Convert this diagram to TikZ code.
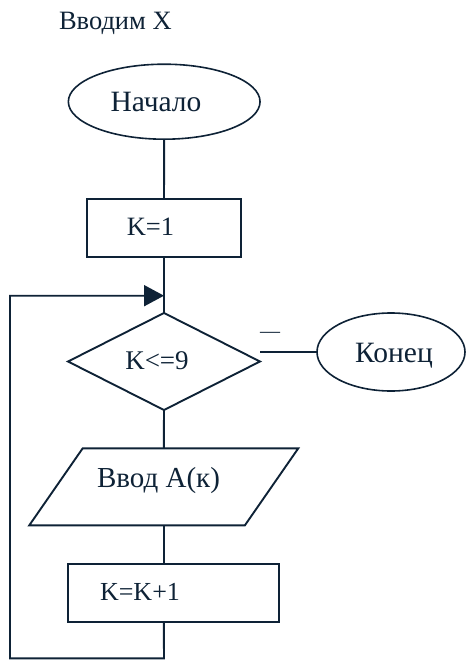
\documentclass[tikz,border=0pt]{standalone}
\usepackage{fontspec}
\setmainfont{Liberation Serif}
\usetikzlibrary{shapes.geometric,arrows.meta}
\definecolor{ink}{RGB}{14,34,54}
\newcommand\txtsize[1]{\fontsize{#1bp}{#1bp}\selectfont}
\begin{document}
\begin{tikzpicture}[x=1bp,y=-1bp,
  every node/.style={inner sep=0pt, outer sep=0pt},
  line/.style={draw=ink, line width=1.9bp},
  txt/.style={text=ink, anchor=base},
  arrowtip/.style={-{Triangle[length=20bp,width=21bp]}},
]
\useasboundingbox (0,0) rectangle (467,660);

% heading
\node[txt, anchor=base west, font=\txtsize{26.5}] (title) at (59,29.3) {Вводим X};

% blocks
\node[line, line width=1.6bp, ellipse, minimum width=191.7bp, minimum height=75bp] (start) at (164.2,101.7) {};
\node[txt, font=\txtsize{29.5}] (startText) at (156,112) {Начало};

\node[line, rectangle, minimum width=154bp, minimum height=58bp] (k1) at (164,228) {};
\node[txt, font=\txtsize{26.5}] (k1Text) at (150.5,235) {K=1};

\node[line, diamond, minimum width=192bp, minimum height=97bp, aspect=1.98] (cond) at (164,361.5) {};
\node[txt, font=\txtsize{27}] (condText) at (157,369) {K<=9};

\node[line, line width=1.6bp, ellipse, minimum width=148bp, minimum height=78bp] (endn) at (391,352) {};
\node[txt, font=\txtsize{29.5}] (endText) at (394,362) {Конец};

% input block: parallelogram drawn on a plain rectangle node
\node[rectangle, minimum width=215.6bp, minimum height=77bp] (inp) at (163.8,486.8) {};
\draw[line] ([xshift=26.7bp]inp.north west) -- ([xshift=26.7bp]inp.north east)
  -- ([xshift=-26.7bp]inp.south east) -- ([xshift=-26.7bp]inp.south west) -- cycle;
\node[txt, font=\txtsize{29}] (inpText) at (158.5,487) {Ввод A(к)};

\node[line, rectangle, minimum width=211.6bp, minimum height=57.7bp] (inc) at (173.5,592.8) {};
\node[txt, font=\txtsize{26}] (incText) at (140,600) {K=K+1};

% "no" mark on the exit branch
\node[txt, font=\txtsize{20}] (noMark) at (270,337.6) {—};

% loop points
\coordinate (merge) at (164,295.7);
\coordinate (lowR) at (164,658.3);
\coordinate (lowL) at (10,658.3);
\coordinate (upL) at (10,295.7);

% connectors
\draw[line] (start.south) -- (k1.north);
\draw[line] (k1.south) -- (cond.north);
\draw[line] (cond.south) -- (inp.north);
\draw[line] (inp.south) -- (inp.south |- inc.north);
\draw[line] (endn.west -| cond.east) -- (endn.west);
\draw[line, arrowtip] (inp.south |- inc.south) -- (lowR) -- (lowL) -- (upL) -- (merge);
\end{tikzpicture}
\end{document}
